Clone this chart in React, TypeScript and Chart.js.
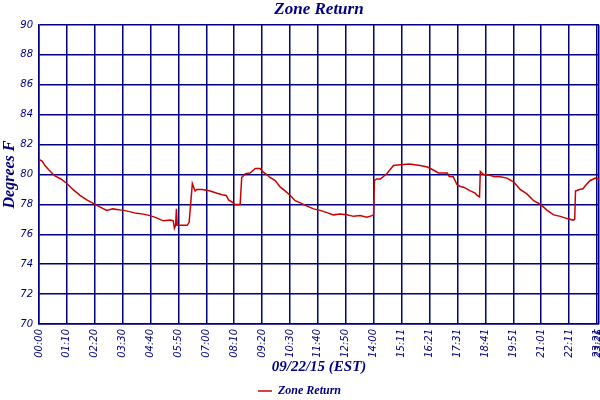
import React, { useEffect, useRef } from "react";
import { Chart, registerables } from "chart.js";
Chart.register(...registerables);

// minutes since 00:00
const times = [
  0, 8, 15, 25, 40, 55, 70, 85, 103, 120, 141, 155, 170, 185, 200, 212, 230, 245, 262, 279,
  295, 312, 330, 337, 340, 343, 345, 347, 360, 372, 377, 381, 385, 389, 392, 396, 410, 430, 447, 460,
  470, 476, 485, 492, 505, 509, 518, 530, 543, 555, 563, 572, 580, 593, 606, 618, 631, 643, 656, 672,
  689, 706, 723, 739, 756, 773, 790, 806, 823, 836, 840, 842, 848, 857, 873, 890, 907, 930, 957, 975,
  990, 1003, 1025, 1030, 1040, 1050, 1058, 1066, 1083, 1095, 1100, 1106, 1108, 1116, 1133, 1141, 1158, 1175, 1192, 1208,
  1225, 1242, 1259, 1276, 1292, 1309, 1326, 1341, 1345, 1347, 1357, 1366, 1372, 1384, 1397, 1406,
];
const temps = [
  81.0, 80.9, 80.6, 80.3, 79.9, 79.7, 79.4, 79.0, 78.6, 78.3, 78.0, 77.8, 77.6, 77.7, 77.65, 77.6, 77.5, 77.4, 77.35, 77.25,
  77.1, 76.9, 76.95, 76.9, 76.4, 76.6, 77.7, 76.6, 76.6, 76.6, 76.8, 78.1, 79.4, 79.1, 78.9, 79.0, 79.0, 78.9, 78.75, 78.65,
  78.6, 78.3, 78.15, 78.0, 78.0, 79.8, 80.05, 80.1, 80.4, 80.4, 80.15, 80.0, 79.8, 79.6, 79.15, 78.9, 78.6, 78.25, 78.1, 77.9,
  77.7, 77.6, 77.45, 77.3, 77.35, 77.3, 77.2, 77.25, 77.15, 77.25, 77.3, 79.6, 79.7, 79.7, 80.05, 80.6, 80.65, 80.7, 80.6, 80.5,
  80.3, 80.1, 80.1, 79.87, 79.85, 79.3, 79.2, 79.15, 78.9, 78.75, 78.6, 78.5, 80.2, 80.0, 79.95, 79.87, 79.85, 79.76, 79.5, 79.0,
  78.7, 78.25, 78.0, 77.6, 77.3, 77.2, 77.05, 76.95, 77.0, 78.9, 79.0, 79.05, 79.26, 79.6, 79.76, 79.7,
];
const tickMinutes = [0, 70, 140, 210, 280, 350, 420, 490, 560, 630, 700, 770, 840, 911, 981, 1051, 1121, 1191, 1261, 1331, 1401, 1406];
const tickLabels = [
  "00:00", "01:10", "02:20", "03:30", "04:40", "05:50", "07:00", "08:10", "09:20", "10:30", "11:40",
  "12:50", "14:00", "15:11", "16:21", "17:31", "18:41", "19:51", "21:01", "22:11", "23:21", "23:26",
];
const chartTitle = "Zone Return";
const seriesName = "Zone Return";
const xTitle = "09/22/15 (EST)";
const yTitle = "Degrees F";

export default function App() {
  const ref = useRef<HTMLCanvasElement>(null);
  useEffect(() => {
    const navy = "#000080";
    const titlePlugin = {
      id: "ctitle",
      afterDraw(chart: any) {
        const { ctx, chartArea } = chart;
        ctx.save();
        ctx.font = "italic bold 17px 'Liberation Serif'";
        ctx.fillStyle = navy;
        ctx.textAlign = "center";
        ctx.textBaseline = "middle";
        ctx.fillText(chartTitle, (chartArea.left + chartArea.right) / 2, 10);
        ctx.restore();
      },
    };
    const chart = new Chart(ref.current as HTMLCanvasElement, {
      type: "line",
      data: {
        datasets: [
          {
            label: seriesName,
            data: times.map((t, i) => ({ x: t, y: temps[i] })),
            borderColor: "#cc0000",
            backgroundColor: "#cc0000",
            borderWidth: 1.5,
            pointRadius: 0,
            fill: false,
            tension: 0,
          },
        ],
      },
      options: {
        animation: false,
        responsive: false,
        layout: { padding: { top: 25, right: 1, left: 0, bottom: -7 } },
        plugins: {
          legend: {
            position: "bottom",
            labels: {
              usePointStyle: true,
              pointStyle: "line",
              pointStyleWidth: 14,
              color: navy,
              font: { family: "'Liberation Serif'", style: "italic", weight: "bold", size: 12 },
              padding: 2,
            },
          },
          title: { display: false },
          tooltip: { enabled: false },
        },
        scales: {
          x: {
            type: "linear",
            min: 0,
            max: 1406,
            afterBuildTicks: (s: any) => {
              s.ticks = tickMinutes.map((v) => ({ value: v }));
            },
            afterFit: (s: any) => {
              s.height = 59;
              s.paddingRight = 0;
              s.paddingLeft = 0;
            },
            ticks: {
              autoSkip: false,
              maxRotation: 90,
              minRotation: 90,
              padding: 5,
              color: navy,
              font: { family: "'DejaVu Sans'", style: "italic", size: 10 },
              callback: (_v: any, i: number) => tickLabels[i],
            },
            grid: { color: navy, drawTicks: false, lineWidth: 1.5 },
            border: { color: navy, width: 1.5 },
            title: {
              display: true,
              text: xTitle,
              color: navy,
              font: { family: "'Liberation Serif'", style: "italic", weight: "bold", size: 15 },
              padding: { top: 2, bottom: 7 },
            },
          },
          y: {
            min: 70,
            max: 90,
            afterFit: (s: any) => {
              s.width = 39;
            },
            ticks: {
              stepSize: 2,
              padding: 6,
              color: navy,
              font: { family: "'DejaVu Sans'", style: "italic", size: 10 },
            },
            grid: { color: navy, drawTicks: false, lineWidth: 1.5 },
            border: { color: navy, width: 1.5 },
            title: {
              display: true,
              text: yTitle,
              color: navy,
              font: { family: "'Liberation Serif'", style: "italic", weight: "bold", size: 16 },
              padding: 0,
            },
          },
        },
      },
      plugins: [titlePlugin],
    });
    return () => chart.destroy();
  }, []);
  return (
    <div style={{ position: "absolute", left: 0, top: 0, width: 600, height: 400, background: "#fff" }}>
      <canvas ref={ref} width={600} height={400} style={{ width: 600, height: 400 }} />
    </div>
  );
}
